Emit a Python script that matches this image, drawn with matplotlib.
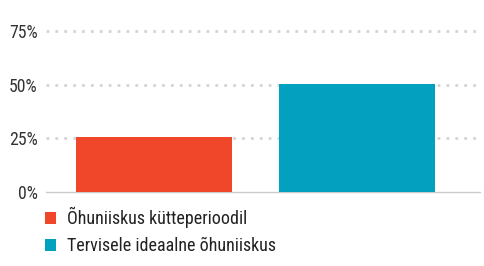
import matplotlib
matplotlib.use("Agg")
import matplotlib.pyplot as plt
from matplotlib.patches import Patch
from matplotlib import font_manager

categories = ["Õhuniiskus kütteperioodil", "Tervisele ideaalne õhuniiskus"]
values = [25.5, 50.5]
colors = ["#F0462A", "#04A0C0"]
yticks = [0, 25, 50, 75]
ytick_labels = ["0%", "25%", "50%", "75%"]

names = {f.name for f in font_manager.fontManager.ttflist}
fam = ['Roboto Condensed'] if 'Roboto Condensed' in names else []
fam += ['Liberation Sans Narrow'] if 'Liberation Sans Narrow' in names else []
fam += ['Roboto', 'DejaVu Sans']
plt.rcParams['font.family'] = fam

fig = plt.figure(figsize=(4.84, 2.66), dpi=100)
ax = fig.add_axes([46/484, 0.278, 434/484, 0.629])

x = list(range(len(values)))
ax.bar(x, values, width=0.768, color=colors, zorder=3)
ax.set_xlim(-0.532, 1.606)
ax.set_ylim(0, 78)
ax.set_yticks(yticks)
ax.set_yticklabels(ytick_labels, fontsize=12.8, color="#333333")
ax.set_xticks([])
for s in ["top", "right", "left"]:
    ax.spines[s].set_visible(False)
ax.spines["bottom"].set_color("#cccccc")
ax.spines["bottom"].set_linewidth(1)
ax.tick_params(axis="y", length=0, pad=6)
for t in yticks[1:]:
    ax.axhline(t, color="#d4d4d4", linewidth=2, linestyle=(0, (1, 2.2)), zorder=1)

handles = [Patch(facecolor=c, edgecolor="none") for c in colors]
fig.legend(handles, categories, loc="upper left", bbox_to_anchor=(45/484, 1 - 207/266),
           frameon=False, fontsize=13, handlelength=0.62, handleheight=0.62,
           handletextpad=0.58, labelspacing=0.5, borderpad=0, borderaxespad=0,
           labelcolor="#222222")

fig.savefig("out.png", dpi=100)
